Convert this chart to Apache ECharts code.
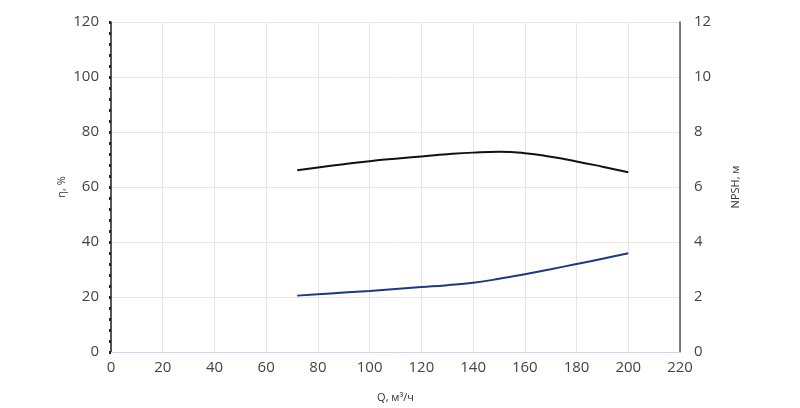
<!DOCTYPE html>
<html>
<head>
<meta charset="utf-8">
<script src="https://cdn.jsdelivr.net/npm/echarts@6/dist/echarts.min.js"></script>
<style>
  html, body { margin: 0; padding: 0; background: #fff; }
  #chart { width: 800px; height: 408px; }
</style>
</head>
<body>
<div id="chart"></div>
<script>
// подача, м3/ч
var flow = [72, 80, 90, 100, 110, 120, 130, 140, 150, 160, 170, 180, 190, 200];
// КПД, %
var efficiency = [66.1, 67.1, 68.3, 69.4, 70.3, 71.1, 71.9, 72.5, 72.8, 72.3, 71.0, 69.3, 67.4, 65.4];
// NPSH, м
var npsh = [2.05, 2.1, 2.16, 2.22, 2.29, 2.36, 2.43, 2.52, 2.66, 2.83, 3.01, 3.2, 3.39, 3.59];

var font = "'Open Sans', 'DejaVu Sans', sans-serif";

function pairs(ys) {
  return flow.map(function (q, i) { return [q, ys[i]]; });
}

var chart = echarts.init(document.getElementById('chart'));
chart.setOption({
  animation: false,
  backgroundColor: '#fff',
  grid: { left: 111, right: 120, top: 22, bottom: 56 },
  xAxis: {
    type: 'value',
    min: 0, max: 220, interval: 20,
    name: 'Q, м³/ч',
    nameLocation: 'middle',
    nameGap: 40,
    nameTextStyle: { color: '#333', fontSize: 11, fontFamily: font },
    axisLine: { show: true, lineStyle: { color: '#ccd6eb', width: 1 } },
    axisTick: { show: false },
    axisLabel: { color: '#444', fontSize: 15, fontFamily: font, margin: 8 },
    splitLine: { show: true, lineStyle: { color: '#e6e6e6', width: 1 } }
  },
  yAxis: [
    {
      type: 'value',
      min: 0, max: 120, interval: 20,
      name: 'η, %',
      nameLocation: 'middle',
      nameGap: 44,
      nameMoveOverlap: false,
      nameTextStyle: { color: '#333', fontSize: 11, fontFamily: font },
      axisLine: { show: true, lineStyle: { color: '#222', width: 1.5 } },
      axisTick: { show: true, length: 2, lineStyle: { color: '#222', width: 3 } },
      minorTick: { show: true, splitNumber: 5, length: 2, lineStyle: { color: '#222', width: 3 } },
      axisLabel: { color: '#444', fontSize: 15, fontFamily: font, margin: 12 },
      splitLine: { show: true, lineStyle: { color: '#e6e6e6', width: 1 } }
    },
    {
      type: 'value',
      min: 0, max: 12, interval: 2,
      position: 'right',
      name: 'NPSH, м',
      nameLocation: 'middle',
      nameGap: 50,
      nameTextStyle: { color: '#333', fontSize: 11, fontFamily: font },
      axisLine: { show: true, lineStyle: { color: '#555', width: 1.5 } },
      axisTick: { show: false },
      axisLabel: { color: '#444', fontSize: 15, fontFamily: font, margin: 14 },
      splitLine: { show: false }
    }
  ],
  series: [
    {
      name: 'η',
      type: 'line',
      yAxisIndex: 0,
      smooth: true,
      symbol: 'none',
      lineStyle: { color: '#111', width: 2 },
      data: pairs(efficiency)
    },
    {
      name: 'NPSH',
      type: 'line',
      yAxisIndex: 1,
      smooth: true,
      symbol: 'none',
      lineStyle: { color: '#1c3a7e', width: 2 },
      data: pairs(npsh)
    }
  ]
});
</script>
</body>
</html>
